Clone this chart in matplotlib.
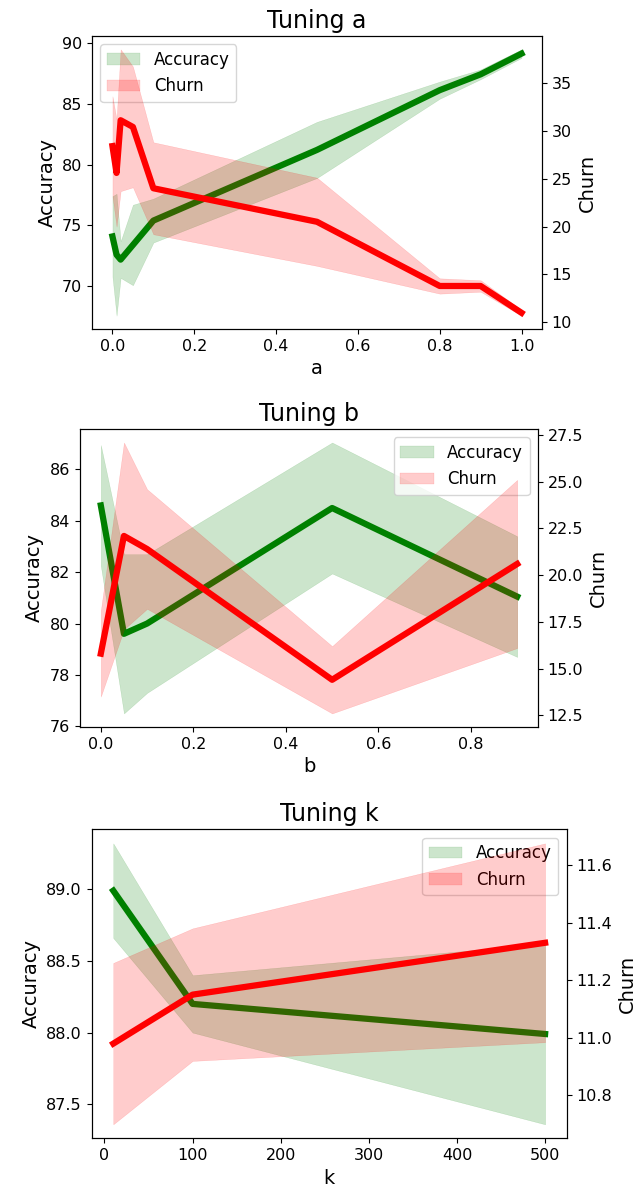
import matplotlib
matplotlib.use("Agg")
import matplotlib.pyplot as plt
from matplotlib.ticker import MultipleLocator
import numpy as np

# Tuning a
a_vals = [0, 0.01, 0.02, 0.05, 0.1, 0.5, 0.8, 0.9, 1.0]
a_acc_mean = [74.1, 72.6, 72.2, 73.4, 75.4, 81.2, 86.1, 87.4, 89.1]
a_acc_std = [3.3, 5.0, 1.5, 3.3, 1.8, 2.3, 0.7, 0.4, 0.35]
a_churn_mean = [28.4, 25.6, 31.1, 30.4, 24.0, 20.5, 13.8, 13.8, 11.0]
a_churn_std = [5.2, 5.6, 7.4, 6.3, 4.8, 4.6, 0.8, 0.6, 0.3]

# Tuning b
b_vals = [0, 0.05, 0.1, 0.5, 0.9]
b_acc_mean = [84.6, 79.6, 80.0, 84.5, 81.05]
b_acc_std = [2.35, 3.1, 2.7, 2.55, 2.35]
b_churn_mean = [15.8, 22.1, 21.4, 14.4, 20.6]
b_churn_std = [2.3, 5.0, 3.2, 1.8, 4.5]

# Tuning k
k_vals = [10, 100, 500]
k_acc_mean = [88.99, 88.20, 87.99]
k_acc_std = [0.33, 0.2, 0.63]
k_churn_mean = [10.98, 11.15, 11.33]
k_churn_std = [0.28, 0.23, 0.345]


def tuning_plot(ax, name, x, acc, acc_std, churn, churn_std, legend_loc, acc_step, churn_step):
    acc = np.array(acc)
    acc_std = np.array(acc_std)
    churn = np.array(churn)
    churn_std = np.array(churn_std)

    f1 = ax.fill_between(x, acc - acc_std, acc + acc_std, color="green", alpha=0.2,
                         linewidth=0.3, label="Accuracy")
    ax.plot(x, acc, color="green", linewidth=4.5)
    ax.set_ylabel("Accuracy", fontsize=14)
    ax.set_xlabel(name, fontsize=14)
    ax.set_title("Tuning " + name, fontsize=17)
    ax.tick_params(labelsize=11.5)
    ax.yaxis.set_major_locator(MultipleLocator(acc_step))

    ax2 = ax.twinx()
    f2 = ax2.fill_between(x, churn - churn_std, churn + churn_std, color="red", alpha=0.2,
                          linewidth=0.3, label="Churn")
    ax2.plot(x, churn, color="red", linewidth=4.5)
    ax2.set_ylabel("Churn", fontsize=14)
    ax2.tick_params(labelsize=11.5)
    ax2.yaxis.set_major_locator(MultipleLocator(churn_step))

    # legend on the left axis, so the churn band is drawn over it
    ax.legend(handles=[f1, f2], loc=legend_loc, fontsize=12)
    return ax2


fig = plt.figure(figsize=(6.42, 11.89), dpi=100)
ax_a = fig.add_axes([0.1433, 0.7233, 0.7009, 0.2464])
ax_b = fig.add_axes([0.1246, 0.3886, 0.7134, 0.2506])
ax_k = fig.add_axes([0.1428, 0.0426, 0.7399, 0.2599])

tuning_plot(ax_a, "a", a_vals, a_acc_mean, a_acc_std, a_churn_mean, a_churn_std, "upper left", 5, 5)
tuning_plot(ax_b, "b", b_vals, b_acc_mean, b_acc_std, b_churn_mean, b_churn_std, "upper right", 2, 2.5)
tuning_plot(ax_k, "k", k_vals, k_acc_mean, k_acc_std, k_churn_mean, k_churn_std, "upper right", 0.5, 0.2)

plt.savefig("out.png", dpi=100)
